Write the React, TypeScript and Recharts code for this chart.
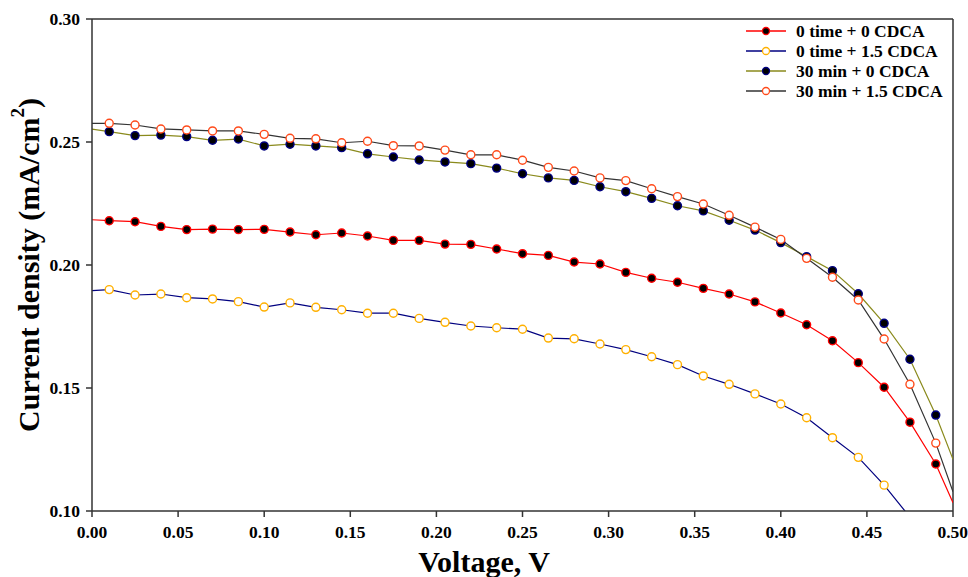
import { LineChart, Line, XAxis, YAxis, ReferenceLine } from 'recharts'

const FONT = '"Liberation Serif", "Times New Roman", Times, serif'
const AXIS = '#333333'

// voltage steps (V); first and last points are curve ends with no marker
const voltage = [
  0, 0.01, 0.025, 0.04, 0.055, 0.07, 0.085, 0.1, 0.115, 0.13, 0.145, 0.16,
  0.175, 0.19, 0.205, 0.22, 0.235, 0.25, 0.265, 0.28, 0.295, 0.31, 0.325,
  0.34, 0.355, 0.37, 0.385, 0.4, 0.415, 0.43, 0.445, 0.46, 0.475, 0.49, 0.5,
]

// current density (mA/cm2)
const time0Cdca0 = [
  0.2184, 0.218, 0.2176, 0.2157, 0.2144, 0.2146, 0.2144, 0.2145, 0.2134, 0.2123,
  0.213, 0.2118, 0.21, 0.21, 0.2085, 0.2084, 0.2065, 0.2046, 0.2039, 0.2012,
  0.2004, 0.197, 0.1946, 0.193, 0.1905, 0.1882, 0.185, 0.1805, 0.1757, 0.1692,
  0.1603, 0.1503, 0.1361, 0.1191, 0.1034,
]
const time0Cdca15 = [
  0.1896, 0.19, 0.1878, 0.1882, 0.1867, 0.1862, 0.1851, 0.1829, 0.1846, 0.1828,
  0.1818, 0.1804, 0.1804, 0.1783, 0.1767, 0.1752, 0.1745, 0.1739, 0.1703, 0.17,
  0.1679, 0.1656, 0.1627, 0.1595, 0.1549, 0.1515, 0.1476, 0.1435, 0.1379, 0.1298,
  0.1218, 0.1105, 0.0975, 0.082, 0.07,
]
const min30Cdca0 = [
  0.2552, 0.2542, 0.2526, 0.2528, 0.2522, 0.2507, 0.2512, 0.2484, 0.2491, 0.2484,
  0.2477, 0.2452, 0.2439, 0.2427, 0.2419, 0.2412, 0.2394, 0.2371, 0.2354, 0.2344,
  0.2318, 0.2298, 0.2271, 0.2241, 0.222, 0.2182, 0.2142, 0.2091, 0.2034, 0.1977,
  0.1883, 0.1763, 0.1617, 0.139, 0.121,
]
const min30Cdca15 = [
  0.2576, 0.2576, 0.2569, 0.2553, 0.2549, 0.2545, 0.2545, 0.2531, 0.2515, 0.2513,
  0.2497, 0.2503, 0.2485, 0.2484, 0.2467, 0.2448, 0.2448, 0.2426, 0.2397, 0.2382,
  0.2354, 0.2343, 0.231, 0.2278, 0.2248, 0.2202, 0.2154, 0.2104, 0.2027, 0.195,
  0.1858, 0.1699, 0.1515, 0.1276, 0.1078,
]

const xTicks = [0, 0.05, 0.1, 0.15, 0.2, 0.25, 0.3, 0.35, 0.4, 0.45, 0.5]
const yTicks = [0.1, 0.15, 0.2, 0.25, 0.3]

const rows = voltage.map((v, i) => ({
  v,
  s1: time0Cdca0[i],
  s2: time0Cdca15[i],
  s3: min30Cdca0[i],
  s4: min30Cdca15[i],
}))

const SERIES = [
  { key: 's1', name: '0 time + 0 CDCA', line: '#ff0000', fill: '#000000', edge: '#ff0000' },
  { key: 's2', name: '0 time + 1.5 CDCA', line: '#000080', fill: '#ffffff', edge: '#ffb000' },
  { key: 's3', name: '30 min + 0 CDCA', line: '#8a8a1c', fill: '#000000', edge: '#000080' },
  { key: 's4', name: '30 min + 1.5 CDCA', line: '#333333', fill: '#ffffff', edge: '#ff4a1a' },
]

function makeDot(fill: string, edge: string) {
  return (props: any) => {
    const { cx, cy, index } = props
    if (index === 0 || index === voltage.length - 1 || cx == null || cy == null) {
      return <g key={`d-${index}`} />
    }
    return (
      <circle key={`d-${index}`} cx={cx} cy={cy} r={4} fill={fill} stroke={edge} strokeWidth={1.4} />
    )
  }
}

function LegendBox() {
  return (
    <div
      style={{
        position: 'absolute',
        left: 746,
        top: 21,
        fontFamily: FONT,
        fontWeight: 'bold',
        fontSize: 17.5,
        color: '#000',
      }}
    >
      {SERIES.map(s => (
        <div key={s.key} style={{ display: 'flex', alignItems: 'center', height: 20 }}>
          <svg width={40} height={20} style={{ marginRight: 10 }}>
            <line x1={0} y1={10} x2={40} y2={10} stroke={s.line} strokeWidth={1.5} />
            <circle cx={20} cy={10} r={3.5} fill={s.fill} stroke={s.edge} strokeWidth={1.3} />
          </svg>
          <span style={{ whiteSpace: 'nowrap' }}>{s.name}</span>
        </div>
      ))}
    </div>
  )
}

function YTitle({ viewBox }: any) {
  const cx = viewBox.x + 28
  const cy = viewBox.y + viewBox.height / 2
  return (
    <text
      x={cx}
      y={cy}
      transform={`rotate(-90 ${cx} ${cy})`}
      textAnchor="middle"
      dominantBaseline="central"
      fontFamily={FONT}
      fontWeight="bold"
      fontSize={30}
      fill="#000"
    >
      Current density (mA/cm
      <tspan dy={-11} fontSize={19}>2</tspan>
      <tspan dy={11}>)</tspan>
    </text>
  )
}

function XTitle({ viewBox }: any) {
  return (
    <text
      x={viewBox.x + 392}
      y={viewBox.y + 61}
      textAnchor="middle"
      fontFamily={FONT}
      fontWeight="bold"
      fontSize={30}
      fill="#000"
    >
      Voltage, V
    </text>
  )
}

const tickStyle = { fontFamily: FONT, fontWeight: 'bold' as const, fontSize: 17.5, fill: '#000' }

export default function App() {
  return (
    <div style={{ position: 'absolute', left: 0, top: 0, width: 968, height: 577, background: '#fff' }}>
      <LineChart width={968} height={577} data={rows} margin={{ top: 19, right: 15, bottom: 0, left: 0 }}>
        <XAxis
          dataKey="v"
          type="number"
          domain={[0, 0.5]}
          ticks={xTicks}
          tickFormatter={(t: number) => t.toFixed(2)}
          tick={tickStyle}
          tickSize={6}
          tickMargin={9}
          stroke={AXIS}
          strokeWidth={1.5}
          height={66}
          allowDataOverflow
          label={{ content: (p: any) => <XTitle viewBox={p.viewBox} /> }}
        />
        <YAxis
          type="number"
          domain={[0.1, 0.3]}
          ticks={yTicks}
          tickFormatter={(t: number) => t.toFixed(2)}
          tick={tickStyle}
          tickSize={6}
          tickMargin={6}
          stroke={AXIS}
          strokeWidth={1.5}
          width={92}
          allowDataOverflow
          label={{ content: (p: any) => <YTitle viewBox={p.viewBox} /> }}
        />
        <ReferenceLine y={0.3} stroke={AXIS} strokeWidth={1.5} />
        <ReferenceLine x={0.5} stroke={AXIS} strokeWidth={1.5} />
        {SERIES.map(s => (
          <Line
            key={s.key}
            dataKey={s.key}
            name={s.name}
            type="linear"
            stroke={s.line}
            strokeWidth={1.2}
            dot={makeDot(s.fill, s.edge)}
            activeDot={false}
            isAnimationActive={false}
          />
        ))}
      </LineChart>
      <LegendBox />
    </div>
  )
}
